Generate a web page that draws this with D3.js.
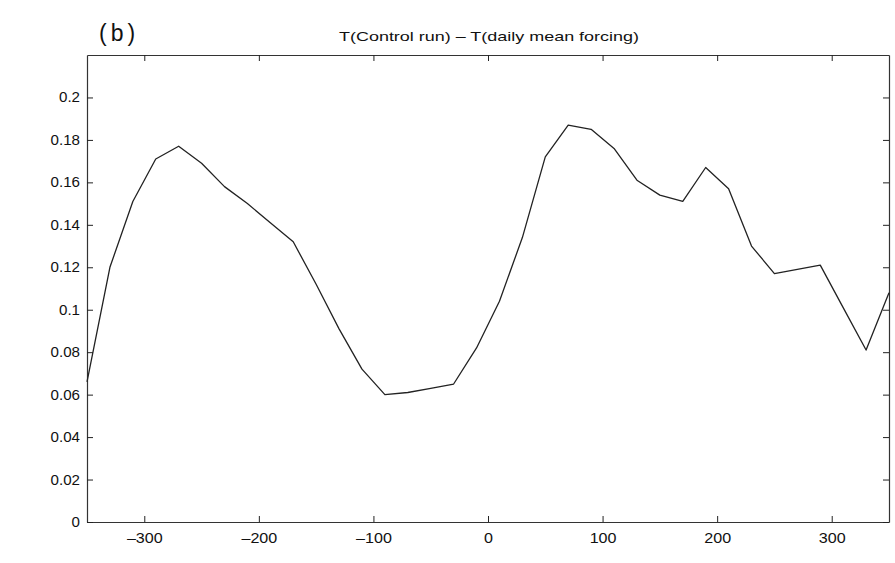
<!DOCTYPE html>
<html>
<head>
<meta charset="utf-8">
<script src="https://cdn.jsdelivr.net/npm/d3@7"></script>
<style>
  html, body { margin: 0; padding: 0; background: #fff; }
  svg { display: block; font-family: "Liberation Sans", Arial, Helvetica, sans-serif; }
</style>
</head>
<body>
<svg id="chart" width="895" height="563"></svg>
<script>
// Data (lag in days vs temperature difference)
const lags = [-350, -330, -310, -290, -270, -250, -230, -210, -190, -170, -150, -130, -110, -90,
              -70, -50, -30, -10, 10, 30, 50, 70, 90, 110, 130, 150, 170, 190, 210, 230, 250, 270, 290, 310, 330, 350];
const diffT = [0.066, 0.120, 0.151, 0.171, 0.177, 0.169, 0.158, 0.150, 0.141, 0.132, 0.112, 0.091, 0.072, 0.060,
               0.061, 0.063, 0.065, 0.082, 0.104, 0.134, 0.172, 0.187, 0.185, 0.176, 0.161, 0.154, 0.151, 0.167, 0.157, 0.130, 0.117, 0.119, 0.121, 0.101, 0.081, 0.108];
const xTicks = [-300, -200, -100, 0, 100, 200, 300];
const yTicks = [0, 0.02, 0.04, 0.06, 0.08, 0.1, 0.12, 0.14, 0.16, 0.18, 0.2];
const titleText = "T(Control run) \u2013 T(daily mean forcing)";
const panelLabel = "(b)";

(function () {
const svg = d3.select("#chart");
const margin = {left: 87, right: 6, top: 55, bottom: 41};
const W = 895, H = 563;
const iw = W - margin.left - margin.right, ih = H - margin.top - margin.bottom;

const x = d3.scaleLinear().domain([-350, 350]).range([0, iw]);
const y = d3.scaleLinear().domain([0, 0.22]).range([ih, 0]);

const g = svg.append("g").attr("transform", `translate(${margin.left},${margin.top})`);

const fmtX = d => d < 0 ? "\u2013" + Math.abs(d) : String(d);
const fmtY = d => d === 0 ? "0" : String(+d.toFixed(2));

// widen text horizontally (the reference lettering is broad)
function stretch(sel, factor) {
  sel.each(function () {
    const w = this.getComputedTextLength();
    d3.select(this).attr("textLength", w * factor).attr("lengthAdjust", "spacingAndGlyphs");
  });
}

const axBottom = g.append("g").attr("transform", `translate(0,${ih})`)
  .call(d3.axisBottom(x).tickValues(xTicks).tickSizeInner(-6).tickSizeOuter(0).tickPadding(11).tickFormat(fmtX));
const axTop = g.append("g")
  .call(d3.axisTop(x).tickValues(xTicks).tickSizeInner(-6).tickSizeOuter(0).tickFormat(""));
const axLeft = g.append("g")
  .call(d3.axisLeft(y).tickValues(yTicks).tickSizeInner(-6).tickSizeOuter(0).tickPadding(7).tickFormat(fmtY));
const axRight = g.append("g").attr("transform", `translate(${iw},0)`)
  .call(d3.axisRight(y).tickValues(yTicks).tickSizeInner(-6).tickSizeOuter(0).tickFormat(""));

[axBottom, axTop, axLeft, axRight].forEach(a => {
  a.select(".domain").attr("stroke", "#333").attr("stroke-width", 1.2);
  a.selectAll(".tick line").attr("stroke", "#222").attr("stroke-width", 1);
  a.selectAll(".tick text").attr("fill", "#111").style("font-size", "14px");
});
stretch(axBottom.selectAll(".tick text"), 1.15);
stretch(axLeft.selectAll(".tick text"), 1.08);

const line = d3.line().x((d, i) => x(lags[i])).y(d => y(d));
g.append("path")
  .datum(diffT)
  .attr("fill", "none")
  .attr("stroke", "#222")
  .attr("stroke-width", 1.3)
  .attr("stroke-linejoin", "round")
  .attr("d", line);

svg.append("text")
  .attr("x", 489)
  .attr("y", 40.5)
  .attr("text-anchor", "middle")
  .attr("fill", "#111")
  .attr("textLength", 300)
  .attr("lengthAdjust", "spacingAndGlyphs")
  .style("font-size", "13px")
  .text(titleText);

svg.append("text")
  .attr("x", 99)
  .attr("y", 41)
  .attr("fill", "#111")
  .style("font-size", "23px")
  .style("letter-spacing", "4px")
  .text(panelLabel);
})();
</script>
</body>
</html>
